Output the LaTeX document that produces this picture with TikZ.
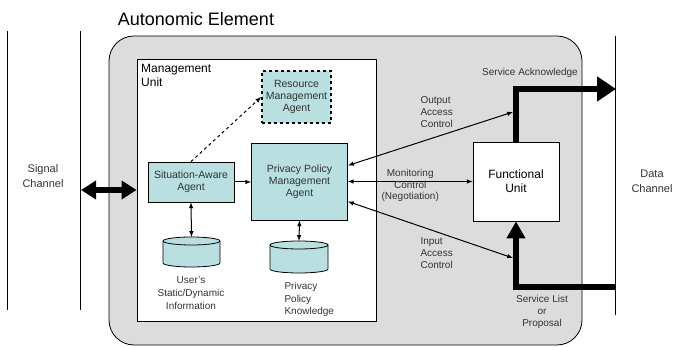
\documentclass[tikz,border=0pt]{standalone}
\usepackage{fontspec}
\setmainfont{Liberation Sans}
\usetikzlibrary{arrows.meta}

\definecolor{agentfill}{HTML}{B9DFE0}
\definecolor{elemgray}{HTML}{DCDCDC}
\definecolor{labelgray}{HTML}{333333}

\tikzset{
  agent/.style={draw, fill=agentfill, line width=0.8pt, align=center, inner sep=0pt,
    text=labelgray, font=\fontsize{10.5}{12}\selectfont},
  store/.style={draw, fill=agentfill, line width=0.8pt},
  lbl/.style={text=labelgray, font=\fontsize{10}{12}\selectfont, align=center},
  link/.style={line width=1pt, latex-latex},
  fat/.style={line width=6pt},
}

% database drum: centre x, top of cap, bottom of cap, half width
\newcommand{\drum}[4]{%
  \draw[store] (#1-#4,#2) -- (#1-#4,#3)
    arc[start angle=180, end angle=0, x radius=#4, y radius=4] -- (#1+#4,#2);
  \draw[store] (#1,#2) ellipse[x radius=#4, y radius=4];
}

\begin{document}
\begin{tikzpicture}[x=1pt,y=-1pt]
\useasboundingbox (0,0) rectangle (675,347);

% channels
\draw[line width=0.8pt] (7,31) -- (7,310);
\draw[line width=0.8pt] (80,31) -- (80,310);
\draw[line width=0.8pt] (615,36) -- (615,315);
\node[lbl, font=\fontsize{11}{15}\selectfont] at (43,176) (sig) {Signal\\Channel};
\node[lbl, font=\fontsize{11}{15}\selectfont] at (652,181) (data) {Data\\Channel};

% autonomic element
\node at (196,19) (title) {\fontsize{18}{20}\selectfont Autonomic Element};
\draw[fill=elemgray, line width=0.8pt, rounded corners=25pt] (109,36) rectangle (582,345);

% management unit
\node[draw, fill=white, line width=0.8pt, minimum width=239pt, minimum height=262pt, inner sep=0pt] at (256.5,190) (MU) {};
\node[anchor=north west, align=left, inner sep=0pt, font=\fontsize{12}{14}\selectfont] at (141,64) (MUtext) {Management\\Unit};

\node[agent, dashed, line width=1.6pt, minimum width=69pt, minimum height=52pt] at (296.5,97) (RMagent) {Resource\\Management\\Agent};
\node[agent, minimum width=86pt, minimum height=40pt] at (191,182) (SAagent) {Situation-Aware\\Agent};
\node[agent, minimum width=96pt, minimum height=77pt] at (299.5,181.5) (PPagent) {Privacy Policy\\Management\\Agent};

\drum{191.5}{241}{263}{28.5}
\drum{299}{245}{269}{29}
\coordinate (userDB) at (191.5,237);
\coordinate (policyDB) at (299,241);
\node[lbl, font=\fontsize{10}{13}\selectfont] at (191,293) (userTxt) {User's\\Static/Dynamic\\Information};
\node[lbl, align=left, anchor=west, font=\fontsize{10}{12.5}\selectfont] at (281,299.5) (policyTxt) {Privacy\\Policy\\Knowledge};

% functional unit
\node[draw, fill=white, line width=0.8pt, minimum width=86pt, minimum height=79pt, align=center,
  font=\fontsize{12}{14}\selectfont] at (516,181.5) (FU) {Functional\\Unit};

\coordinate (sigEnd) at (81,190);
\coordinate (ackEnd) at (616,89);
\coordinate (listStart) at (615,287);
\coordinate (outEnd) at (513,112);
\coordinate (inEnd) at (513,258);

% connectors
\draw[fat, {Triangle[length=15pt,width=18pt]}-{Triangle[length=15pt,width=18pt]}] (sigEnd) -- (MU.west);
\draw[line width=1pt, dashed, -latex] (SAagent.north) -- (RMagent.west);
\draw[line width=1pt, -latex] (SAagent.east) -- (PPagent.west |- SAagent.east);
\draw[link] (SAagent.south) -- (userDB);
\draw[link] (PPagent.south) -- (policyDB);
\draw[link] (PPagent.east |- FU.west) -- node[lbl, font=\fontsize{10}{11.5}\selectfont, yshift=-4pt] {Monitoring\\Control\\(Negotiation)} (FU.west);
\draw[link] ([yshift=16pt]PPagent.east) -- (outEnd);
\draw[link] ([yshift=-20pt]PPagent.east) -- (inEnd);
\draw[fat, -{Triangle[length=19pt,width=24pt]}] (FU.north) |- (ackEnd);
\draw[fat, -{Triangle[length=17pt,width=18pt]}] (listStart) -| (FU.south);

% labels
\node[lbl] at (530,73) (ackTxt) {Service Acknowledge};
\node[lbl, align=left, anchor=west] at (417,112) (outTxt) {Output\\Access\\Control};
\node[lbl, align=left, anchor=west] at (417,253) (inTxt) {Input\\Access\\Control};
\node[lbl] at (542,312) (listTxt) {Service List\\or\\Proposal};

\end{tikzpicture}
\end{document}
